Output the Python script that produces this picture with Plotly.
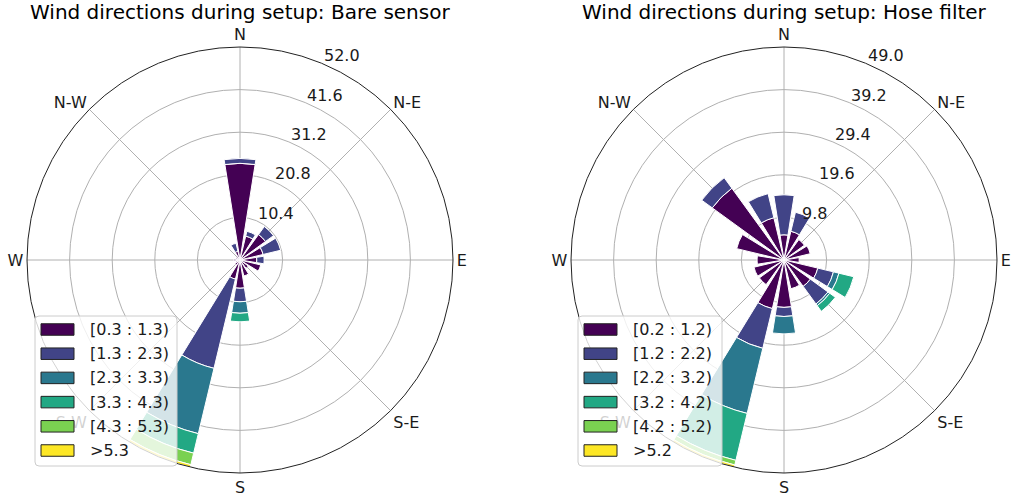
import numpy as np
import plotly.graph_objects as go

# 16 compass sectors (degrees clockwise from north)
directions = [0, 22.5, 45, 67.5, 90, 112.5, 135, 157.5,
              180, 202.5, 225, 247.5, 270, 292.5, 315, 337.5]
compass_vals = [0, 45, 90, 135, 180, 225, 270, 315]
compass_text = ["N", "N-E", "E", "S-E", "S", "S-W", "W", "N-W"]

# wind-speed bin colours (viridis, 6 steps)
bin_colors = ["#440154", "#414487", "#2a788e", "#22a884", "#7ad151", "#fde725"]

# Bare sensor: frequency (%) per speed bin and sector
bare_labels = ["[0.3 : 1.3)", "[1.3 : 2.3)", "[2.3 : 3.3)", "[3.3 : 4.3)", "[4.3 : 5.3)", ">5.3"]
bare_b0 = [23.6, 6.0, 7.7, 5.8, 4.1, 5.2, 2.5, 4.0, 6.9, 4.8, 1.5, 1.0, 1.5, 1.0, 1.0, 2.2]
bare_b1 = [1.2, 1.2, 2.4, 4.4, 1.8, 0, 0, 0, 3.3, 22.4, 0, 0, 0, 0, 0, 2.0]
bare_b2 = [0, 0, 0, 0, 0, 0, 0, 0, 2.8, 16.4, 0, 0, 0, 0, 0, 0]
bare_b3 = [0, 0, 0, 0, 0, 0, 0, 0, 2.1, 4.9, 0, 0, 0, 0, 0, 0]
bare_b4 = [0, 0, 0, 0, 0, 0, 0, 0, 0, 2.9, 0, 0, 0, 0, 0, 0]
bare_b5 = [0, 0, 0, 0, 0, 0, 0, 0, 0, 0.6, 0, 0, 0, 0, 0, 0]

# Hose filter
hose_labels = ["[0.2 : 1.2)", "[1.2 : 2.2)", "[2.2 : 3.2)", "[3.2 : 4.2)", "[4.2 : 5.2)", ">5.2"]
hose_b0 = [5.8, 6.8, 5.8, 6.2, 3.5, 8.0, 7.5, 6.8, 10.9, 11.5, 7.0, 7.1, 6.2, 11.2, 20.4, 10.0]
hose_b1 = [9.2, 4.5, 0, 0, 0, 3.7, 5.0, 0, 2.1, 9.4, 0, 0, 0, 0, 3.0, 5.7]
hose_b2 = [0, 0, 0, 0, 0, 1.3, 0.5, 0, 4.0, 15.4, 0, 0, 0, 0, 0, 0]
hose_b3 = [0, 0, 0, 0, 0, 3.5, 1.6, 0, 0, 11.1, 0, 0, 0, 0, 0, 0]
hose_b4 = [0, 0, 0, 0, 0, 0, 0, 0, 0, 1.1, 0, 0, 0, 0, 0, 0]
hose_b5 = [0, 0, 0, 0, 0, 0, 0, 0, 0, 0.5, 0, 0, 0, 0, 0, 0]

panels = [
    dict(title="Wind directions during setup: Bare sensor", labels=bare_labels,
         bins=[bare_b0, bare_b1, bare_b2, bare_b3, bare_b4, bare_b5]),
    dict(title="Wind directions during setup: Hose filter", labels=hose_labels,
         bins=[hose_b0, hose_b1, hose_b2, hose_b3, hose_b4, hose_b5]),
]

W, H = 1017, 497
FONT = "DejaVu Sans"
TXT = "#1a1a1a"
sector_width = 0.8 * 360 / len(directions)
radii_angle = 22.5  # compass bearing of the radial labels

# polar circle centres and radius in pixels
centres = [240, 784]
cy, R = 260, 213

# legend box geometry (pixels)
legend_left = [35, 578]
legend_right = [177, 722]
legend_top, legend_bottom = 316, 466
row0, row_step = 329.5, 24.2
swatch_w, swatch_h = 33, 11.5
swatch_pad, text_pad = 6, 14


def px(x):
    return x / W


def py(y):
    return 1 - y / H


def rounded_rect(x0, y0, x1, y1, rad):
    """SVG path of a rounded rectangle in paper coordinates (inputs in pixels)."""
    pts = [
        f"M{px(x0 + rad)},{py(y0)}", f"L{px(x1 - rad)},{py(y0)}",
        f"Q{px(x1)},{py(y0)} {px(x1)},{py(y0 + rad)}", f"L{px(x1)},{py(y1 - rad)}",
        f"Q{px(x1)},{py(y1)} {px(x1 - rad)},{py(y1)}", f"L{px(x0 + rad)},{py(y1)}",
        f"Q{px(x0)},{py(y1)} {px(x0)},{py(y1 - rad)}", f"L{px(x0)},{py(y0 + rad)}",
        f"Q{px(x0)},{py(y0)} {px(x0 + rad)},{py(y0)}", "Z",
    ]
    return " ".join(pts)


fig = go.Figure()
layout_extra = {}
annotations = []
shapes = []

for i, p in enumerate(panels):
    pid = "polar" if i == 0 else "polar2"
    for j, (vals, lab) in enumerate(zip(p["bins"], p["labels"])):
        fig.add_trace(go.Barpolar(
            r=vals, theta=directions, width=[sector_width] * len(directions),
            name=lab, subplot=pid, showlegend=False,
            marker=dict(color=bin_colors[j], line=dict(color="white", width=1)),
            hoverinfo="skip",
        ))
    totals = np.sum(np.array(p["bins"]), axis=0)
    rmax = float(totals.max())
    radii = np.linspace(0, rmax, 6)[1:]
    cx = centres[i]
    layout_extra[pid] = dict(
        domain=dict(x=[(cx - R) / W, (cx + R) / W], y=[(H - cy - R) / H, (H - cy + R) / H]),
        bgcolor="white",
        barmode="stack",
        angularaxis=dict(
            direction="clockwise", rotation=90,
            tickmode="array", tickvals=compass_vals, ticktext=compass_text,
            showline=True, linecolor="#222222", linewidth=1,
            gridcolor="#b0b0b0", gridwidth=0.8, ticks="",
            tickfont=dict(family=FONT, size=16, color=TXT),
        ),
        radialaxis=dict(
            range=[0, rmax], tickmode="array", tickvals=list(radii),
            showticklabels=False, angle=90 - radii_angle,
            showline=False, ticks="", gridcolor="#b0b0b0", gridwidth=0.8,
        ),
    )

    # radial labels along the NNE bearing, lower-left anchored at each ring
    a = np.deg2rad(radii_angle)
    for r in radii:
        rp = R * r / rmax
        annotations.append(dict(
            text="%.1f" % r, x=px(cx + rp * np.sin(a)), y=py(cy - rp * np.cos(a)),
            xref="paper", yref="paper", xanchor="left", yanchor="bottom",
            yshift=-4, showarrow=False, font=dict(family=FONT, size=16, color=TXT),
        ))

    # subplot title
    annotations.append(dict(
        text=p["title"], x=px(cx), y=py(12), xref="paper", yref="paper",
        xanchor="center", yanchor="middle", showarrow=False,
        font=dict(family=FONT, size=20, color="black"),
    ))

    # legend frame
    x0, x1 = legend_left[i], legend_right[i]
    shapes.append(dict(
        type="path", xref="paper", yref="paper", layer="above",
        path=rounded_rect(x0, legend_top, x1, legend_bottom, 4),
        fillcolor="rgba(255,255,255,0.8)", line=dict(color="#cccccc", width=1),
    ))
    for j, lab in enumerate(p["labels"]):
        yc = row0 + j * row_step
        sx0 = x0 + swatch_pad
        shapes.append(dict(
            type="rect", xref="paper", yref="paper", layer="above",
            x0=px(sx0), x1=px(sx0 + swatch_w),
            y0=py(yc - swatch_h / 2), y1=py(yc + swatch_h / 2),
            fillcolor=bin_colors[j], line=dict(color="#222222", width=1),
        ))
        annotations.append(dict(
            text=lab, x=px(sx0 + swatch_w + text_pad), y=py(yc),
            xref="paper", yref="paper", xanchor="left", yanchor="middle",
            showarrow=False, font=dict(family=FONT, size=16, color=TXT),
        ))

fig.update_layout(
    width=W, height=H,
    margin=dict(l=0, r=0, t=0, b=0, pad=0),
    paper_bgcolor="white",
    showlegend=False,
    font=dict(family=FONT, color="black"),
    annotations=annotations,
    shapes=shapes,
    **layout_extra,
)

fig.write_html("out.html")
